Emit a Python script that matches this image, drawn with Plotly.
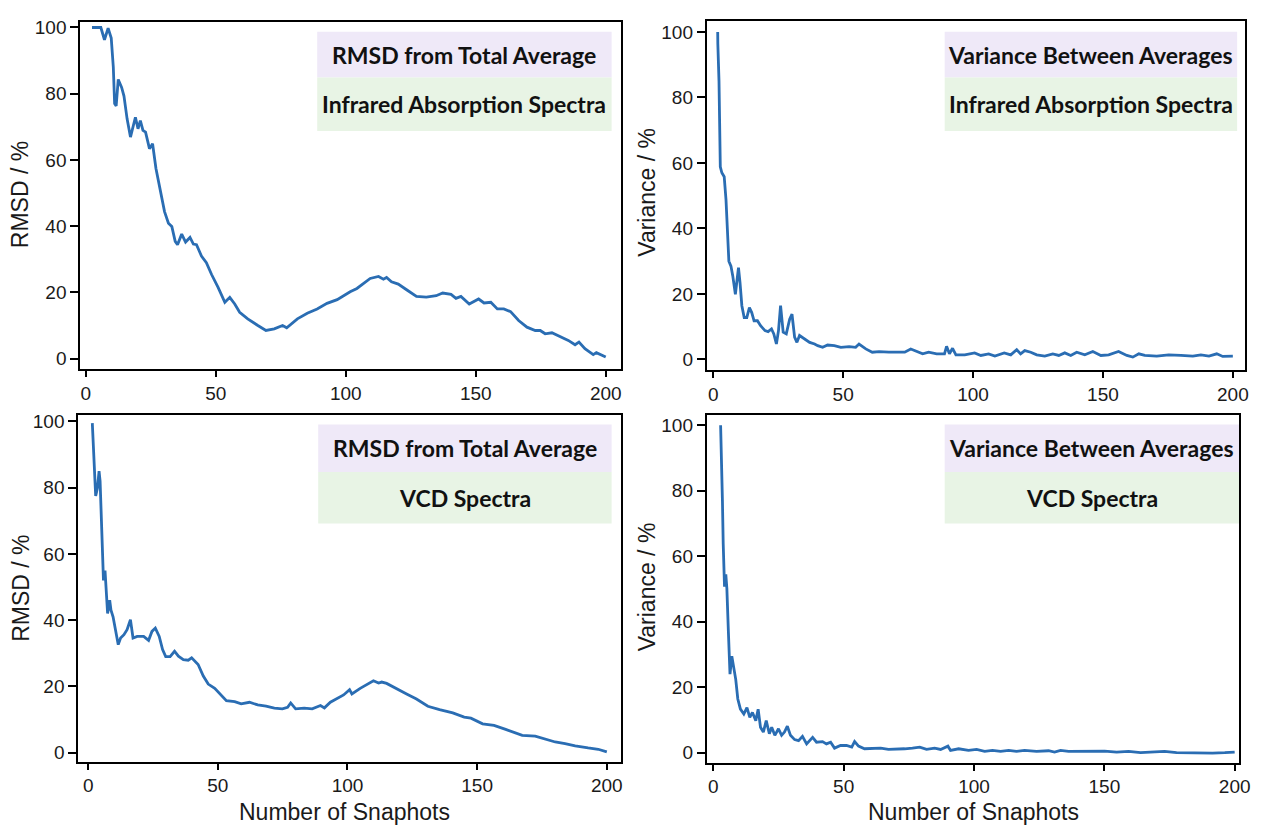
import plotly.graph_objects as go

# ---- data: snapshot count vs. convergence measure ----
ir_rmsd_x = [2.4, 5.8, 7.2, 8.6, 9.8, 10.6, 11.1, 11.7, 12.5, 13.8, 14.7, 15.9, 17.2, 19.1, 20.1, 21.0,
             22.0, 23.0, 24.5, 25.7, 27.0, 28.7, 30.3, 31.8, 33.1, 34.4, 35.3, 36.9, 38.4, 40.1, 41.4,
             42.6, 44.5, 46.4, 48.4, 50.9, 53.5, 55.4, 57.3, 59.2, 62.3, 66.2, 69.3, 72.5, 75.7, 77.3,
             81.4, 85.2, 89.0, 92.8, 96.7, 101.7, 104.3, 109.4, 112.6, 114.5, 115.7, 117.6, 120.2,
             123.4, 127.2, 131.0, 134.8, 137.3, 140.5, 142.4, 144.3, 147.5, 151.1, 153.2, 155.8, 158.3,
             160.8, 163.4, 166.5, 169.7, 172.9, 174.8, 176.7, 179.3, 181.8, 185.6, 188.2, 189.7, 192.0,
             195.2, 196.4, 198.4, 200.0]
ir_rmsd_y = [100.0, 100.0, 96.3, 99.8, 96.8, 88.0, 77.0, 76.3, 84.3, 81.9, 79.3, 72.4, 66.9, 72.9, 69.4, 71.9,
             68.9, 68.4, 63.4, 64.9, 57.4, 50.4, 44.4, 40.9, 39.9, 35.4, 34.4, 37.6, 35.2, 36.6, 34.6,
             34.4, 31.0, 29.0, 25.4, 21.5, 17.0, 18.5, 16.5, 14.0, 12.0, 10.0, 8.5, 9.0, 10.0, 9.3,
             12.0, 13.7, 15.0, 16.7, 17.8, 20.2, 21.2, 24.2, 24.8, 24.0, 24.5, 23.2, 22.5,
             20.8, 18.8, 18.6, 19.0, 19.8, 19.4, 18.2, 18.8, 16.5, 18.0, 16.8, 17.0, 15.0,
             15.0, 14.2, 11.5, 9.5, 8.5, 8.5, 7.5, 7.8, 6.8, 5.5, 4.2, 5.0, 3.0,
             1.2, 1.8, 1.0, 0.5]

ir_var_x = [1.7, 1.75, 2.2, 2.4, 2.7, 3.3, 4.2, 4.9, 5.5, 6.0, 6.8, 7.5, 8.5, 9.1, 9.7, 10.3, 11.0, 11.9,
            12.9, 13.9, 14.8, 15.7, 17.0, 18.2, 19.9, 21.1, 22.4, 23.3, 24.3, 25.1, 25.9, 26.9, 28.1,
            29.4, 30.3, 31.3, 32.2, 33.2, 35.1, 37.1, 39.0, 40.2, 42.1, 44.0, 46.6, 49.1, 52.3, 54.8,
            56.1, 58.7, 61.2, 63.8, 67.6, 70.6, 73.7, 76.0, 78.3, 80.6, 82.9, 86.0, 89.0, 89.8, 90.9,
            92.1, 93.4, 96.8, 100.6, 103.0, 106.0, 108.4, 112.0, 114.5, 116.8, 118.3, 119.9, 122.2,
            124.5, 127.6, 130.7, 133.0, 135.3, 137.6, 139.9, 143.0, 146.1, 149.2, 152.2, 156.0, 159.2,
            161.5, 163.8, 166.1, 170.7, 175.3, 180.0, 184.6, 187.7, 190.8, 193.8, 196.1, 200.0]
ir_var_y = [100.0, 96.4, 85.0, 72.9, 58.8, 57.0, 55.8, 48.7, 38.6, 30.0, 28.5, 25.5, 19.9, 24.4, 28.0, 23.4,
            16.4, 12.8, 12.8, 15.8, 14.3, 11.8, 11.8, 10.3, 8.8, 8.5, 9.3, 7.8, 4.7, 8.8, 16.4, 8.3, 7.8,
            12.3, 13.8, 6.8, 5.2, 7.3, 6.2, 5.2, 4.7, 4.2, 3.7, 4.4, 4.2, 3.7, 3.9, 3.7,
            4.7, 3.2, 2.2, 2.4, 2.2, 2.2, 2.2, 3.2, 2.5, 1.7, 2.2, 1.7, 1.7, 4.0, 1.7,
            3.4, 1.4, 1.4, 2.0, 1.2, 1.7, 1.0, 2.0, 1.4, 3.0, 1.7, 2.7, 2.2,
            1.4, 1.0, 1.7, 1.2, 2.0, 1.2, 2.2, 1.4, 2.4, 1.2, 1.4, 2.4, 1.2,
            0.7, 1.7, 1.2, 1.0, 1.4, 1.2, 1.0, 1.4, 1.0, 1.7, 0.9, 1.0]

vcd_rmsd_x = [1.6, 2.3, 2.9, 3.6, 4.2, 4.6, 5.1, 5.5, 5.9, 6.5, 7.0, 7.5, 8.3, 8.8, 9.6, 10.6, 11.6, 12.5,
              13.8, 15.0, 16.3, 17.3, 18.9, 21.4, 23.3, 24.6, 25.9, 27.4, 28.7, 29.9, 31.6, 33.3, 34.8,
              36.7, 38.6, 39.9, 41.4, 42.4, 44.4, 46.3, 48.8, 51.4, 53.3, 56.5, 59.0, 62.2, 65.4, 68.6,
              71.8, 74.9, 76.9, 78.1, 80.0, 83.3, 86.4, 89.6, 91.1, 93.4, 96.3, 98.5, 100.8, 101.7,
              104.9, 107.5, 110.0, 112.0, 113.2, 115.1, 119.0, 122.8, 126.6, 131.0, 135.5, 140.6, 145.0,
              147.6, 152.1, 156.5, 161.0, 167.4, 172.4, 176.3, 180.1, 183.9, 187.8, 192.8, 196.7, 200.0]
vcd_rmsd_y = [99.5, 88.0, 77.5, 80.0, 85.0, 82.0, 70.0, 55.0, 52.0, 55.0, 47.0, 42.0, 46.0, 43.0, 41.0, 37.0,
              32.6, 34.6, 35.6, 37.1, 40.1, 34.6, 35.1, 35.1, 33.9, 36.6, 37.6, 35.1, 31.1, 29.0, 29.0,
              30.6, 29.1, 28.1, 27.9, 28.6, 27.2, 26.6, 23.1, 20.7, 19.4, 17.2, 15.7, 15.4, 14.7, 15.2,
              14.4, 14.0, 13.4, 13.2, 13.7, 15.0, 13.2, 13.4, 13.2, 14.2, 13.5, 15.2, 16.5, 17.4, 19.0,
              17.7, 19.4, 20.7, 21.7, 21.0, 21.3, 20.9, 19.2, 17.7, 16.2, 14.0, 13.0, 12.0, 10.7,
              10.4, 8.7, 8.2, 7.0, 5.2, 5.0, 4.0, 3.2, 2.7, 2.0, 1.4, 1.0, 0.2]

vcd_var_x = [2.8, 3.1, 3.5, 3.8, 4.3, 4.8, 5.2, 5.8, 6.4, 7.1, 7.7, 8.6, 9.4, 10.4, 11.7, 12.9, 14.0, 15.0,
             16.3, 17.2, 18.1, 19.2, 20.3, 21.5, 22.4, 23.6, 25.0, 26.2, 27.3, 28.4, 29.6, 31.2, 32.7,
             34.2, 35.8, 38.1, 39.6, 41.9, 43.4, 45.0, 46.5, 48.8, 51.1, 53.1, 54.2, 55.7, 58.0, 61.1,
             64.2, 67.2, 70.3, 73.4, 76.4, 79.2, 81.8, 84.9, 87.2, 90.0, 91.0, 94.1, 97.9, 101.0,
             104.1, 107.1, 110.2, 113.3, 116.3, 119.4, 124.0, 128.6, 130.9, 133.2, 136.3, 140.9, 145.5,
             150.1, 154.7, 159.3, 163.9, 168.5, 173.1, 177.7, 182.3, 186.9, 191.5, 196.2, 200.0]
vcd_var_y = [100.0, 93.0, 77.0, 63.8, 50.7, 54.5, 50.2, 36.6, 24.0, 29.5, 26.5, 22.4, 16.4, 13.3, 11.8, 13.8,
             10.8, 12.3, 9.8, 13.3, 7.8, 6.3, 9.8, 5.8, 7.8, 5.3, 7.3, 5.3, 6.3, 8.1, 5.3, 4.0, 3.7,
             5.0, 2.7, 4.7, 3.2, 3.4, 2.7, 3.2, 1.4, 2.2, 2.2, 1.7, 3.4, 2.0, 1.2, 1.2,
             1.4, 1.0, 1.0, 1.2, 1.4, 1.7, 1.0, 1.4, 1.0, 2.0, 0.7, 1.2, 0.7, 1.0,
             0.4, 0.7, 0.4, 0.7, 0.4, 0.7, 0.4, 0.6, 0.2, 0.7, 0.4, 0.5, 0.4,
             0.5, 0.2, 0.4, 0.0, 0.2, 0.4, 0.0, -0.1, 0.0, -0.1, 0.0, 0.2]

x_ticks = [0, 50, 100, 150, 200]
y_ticks = [0, 20, 40, 60, 80, 100]

W, H = 1263, 826
LINE = "#2a6db3"
PURPLE = "rgb(239,233,248)"
GREEN = "rgb(232,244,229)"


def px(x):
    return x / W


def py(y):
    return 1 - y / H


# panel boxes in pixels: (left, right, top, bottom), axis ranges
panels = [
    dict(x=ir_rmsd_x, y=ir_rmsd_y, box=(81, 626, 17, 367), xr=[-2.1, 205.7], yr=[-3.1, 101.7],
         ytitle="RMSD / %", yt_pos=(21, 191), xtitle=None,
         leg=(320, 617, 27, 73, 127), top="RMSD from Total Average", bottom="Infrared Absorption Spectra"),
    dict(x=ir_var_x, y=ir_var_y, box=(713, 1256, 16, 368), xr=[-2.5, 204.7], yr=[-3.2, 103.4],
         ytitle="Variance / %", yt_pos=(653, 189), xtitle=None,
         leg=(953, 1248, 27, 73, 127), top="Variance Between Averages", bottom="Infrared Absorption Spectra"),
    dict(x=vcd_rmsd_x, y=vcd_rmsd_y, box=(79, 626, 413, 763), xr=[-3.8, 205.3], yr=[-2.7, 102.1],
         ytitle="RMSD / %", yt_pos=(21, 588), xtitle=("Number of Snaphots", 348, 814),
         leg=(321, 617, 423, 471, 523), top="RMSD from Total Average", bottom="VCD Spectra"),
    dict(x=vcd_var_x, y=vcd_var_y, box=(713, 1250, 414, 764), xr=[-2.5, 201.7], yr=[-3.0, 103.0],
         ytitle="Variance / %", yt_pos=(653, 587), xtitle=("Number of Snaphots", 982, 814),
         leg=(953, 1250, 423, 471, 523), top="Variance Between Averages", bottom="VCD Spectra"),
]

fig = go.Figure()
shapes = []
annotations = []
tick_font = dict(family="Liberation Sans, Arial, sans-serif", size=19, color="#1a1a1a")
title_font = dict(family="Liberation Sans, Arial, sans-serif", size=23, color="#1a1a1a")
leg_font = dict(family="Lato, sans-serif", size=23, color="#111111")

for i, p in enumerate(panels, start=1):
    xa = "x" if i == 1 else f"x{i}"
    ya = "y" if i == 1 else f"y{i}"
    fig.add_trace(go.Scatter(x=p["x"], y=p["y"], mode="lines",
                             line=dict(color=LINE, width=2.8),
                             xaxis=xa, yaxis=ya, showlegend=False, hoverinfo="skip"))
    l, r, t, b = p["box"]
    axis_common = dict(showline=True, linecolor="black", linewidth=2, mirror=True,
                       showgrid=False, zeroline=False, ticks="outside", tickcolor="black",
                       tickwidth=2, tickfont=tick_font)
    fig.update_layout(**{
        ("xaxis" if i == 1 else f"xaxis{i}"): dict(
            domain=[px(l), px(r)], range=p["xr"], tickvals=x_ticks, ticklen=6,
            anchor=ya, **axis_common),
        ("yaxis" if i == 1 else f"yaxis{i}"): dict(
            domain=[py(b), py(t)], range=p["yr"], tickvals=y_ticks, ticklen=8,
            anchor=xa, **axis_common),
    })

    # key boxes
    ll, lr, lt, lm, lb = p["leg"]
    shapes.append(dict(type="rect", xref="paper", yref="paper", x0=px(ll), x1=px(lr),
                       y0=py(lm), y1=py(lt), fillcolor=PURPLE, line=dict(width=0), layer="below"))
    shapes.append(dict(type="rect", xref="paper", yref="paper", x0=px(ll), x1=px(lr),
                       y0=py(lb), y1=py(lm), fillcolor=GREEN, line=dict(width=0), layer="below"))
    annotations.append(dict(text="<b>%s</b>" % p["top"], xref="paper", yref="paper",
                            x=px((ll + lr) / 2), y=py((lt + lm) / 2), showarrow=False,
                            xanchor="center", yanchor="middle", font=leg_font))
    annotations.append(dict(text="<b>%s</b>" % p["bottom"], xref="paper", yref="paper",
                            x=px((ll + lr) / 2), y=py((lm + lb) / 2), showarrow=False,
                            xanchor="center", yanchor="middle", font=leg_font))

    # axis titles
    annotations.append(dict(text=p["ytitle"], xref="paper", yref="paper",
                            x=px(p["yt_pos"][0]), y=py(p["yt_pos"][1]), textangle=-90,
                            showarrow=False, xanchor="center", yanchor="middle", font=title_font))
    if p["xtitle"]:
        txt, tx, ty = p["xtitle"]
        annotations.append(dict(text=txt, xref="paper", yref="paper", x=px(tx), y=py(ty),
                                showarrow=False, xanchor="center", yanchor="middle", font=title_font))

fig.update_layout(width=W, height=H, margin=dict(l=0, r=0, t=0, b=0),
                  paper_bgcolor="white", plot_bgcolor="rgba(0,0,0,0)",
                  shapes=shapes, annotations=annotations)

fig.write_html("out.html")
